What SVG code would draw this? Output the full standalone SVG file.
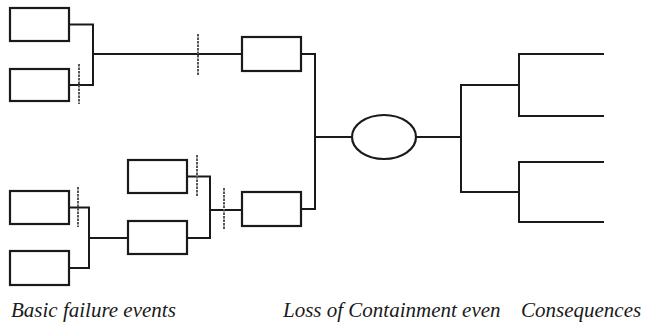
<svg xmlns="http://www.w3.org/2000/svg" width="645" height="323" viewBox="0 0 645 323">
  <style>
    .box { fill: #ffffff; stroke: #1a1a1a; stroke-width: 2.2; }
    .wire { fill: none; stroke: #1a1a1a; stroke-width: 2; stroke-linejoin: miter; }
    .tick { stroke: #555555; stroke-width: 2; stroke-dasharray: 2.5 1; }
    .label { font-family: "Liberation Serif", "Times New Roman", Times, serif; font-style: italic; font-size: 21px; fill: #1a1a1a; }
  </style>
  <rect width="645" height="323" fill="#ffffff"/>

  <!-- connectors -->
  <g id="connectors">
    <!-- upper gate -->
    <path class="wire" d="M69 24.5 H93 V85 H69"/>
    <path class="wire" d="M93 54 H242"/>
    <!-- lower-left gate -->
    <path class="wire" d="M69 207.5 H89 V268 H69"/>
    <path class="wire" d="M89 238 H128"/>
    <!-- lower-middle gate -->
    <path class="wire" d="M187 176.5 H210 V238 H187"/>
    <path class="wire" d="M210 210 H242"/>
    <!-- top event gate -->
    <path class="wire" d="M301 54 H315 V209 H301"/>
    <path class="wire" d="M315 137 H352"/>
    <!-- consequence branches -->
    <path class="wire" d="M416 137 H461"/>
    <path class="wire" d="M519 85 H461 V192 H519"/>
    <path class="wire" d="M604 54 H519 V116 H604"/>
    <path class="wire" d="M604 162 H519 V222 H604"/>
    <!-- barrier marks -->
    <line class="tick" x1="79" y1="64" x2="79" y2="104"/>
    <line class="tick" x1="198" y1="34" x2="198" y2="75"/>
    <line class="tick" x1="78" y1="187" x2="78" y2="227"/>
    <line class="tick" x1="197" y1="155" x2="197" y2="196"/>
    <line class="tick" x1="224" y1="188" x2="224" y2="229"/>
  </g>

  <!-- basic failure events -->
  <g id="event-a"><rect class="box" x="10" y="8" width="59" height="33"/></g>
  <g id="event-b"><rect class="box" x="10" y="69" width="59" height="32"/></g>
  <g id="event-e"><rect class="box" x="10" y="191" width="59" height="33"/></g>
  <g id="event-f"><rect class="box" x="10" y="251" width="59" height="34"/></g>
  <g id="event-d"><rect class="box" x="128" y="160" width="59" height="33"/></g>
  <g id="event-g"><rect class="box" x="128" y="221" width="59" height="33"/></g>
  <g id="event-c"><rect class="box" x="242" y="37" width="59" height="34"/></g>
  <g id="event-h"><rect class="box" x="242" y="192" width="59" height="34"/></g>

  <!-- loss of containment event -->
  <g id="loc-event"><ellipse class="box" cx="384" cy="137" rx="32" ry="22"/></g>

  <!-- captions -->
  <g id="captions">
    <text class="label" x="11" y="317">Basic failure events</text>
    <text class="label" x="283" y="317">Loss of Containment even</text>
    <text class="label" x="521" y="317">Consequences</text>
  </g>
</svg>
